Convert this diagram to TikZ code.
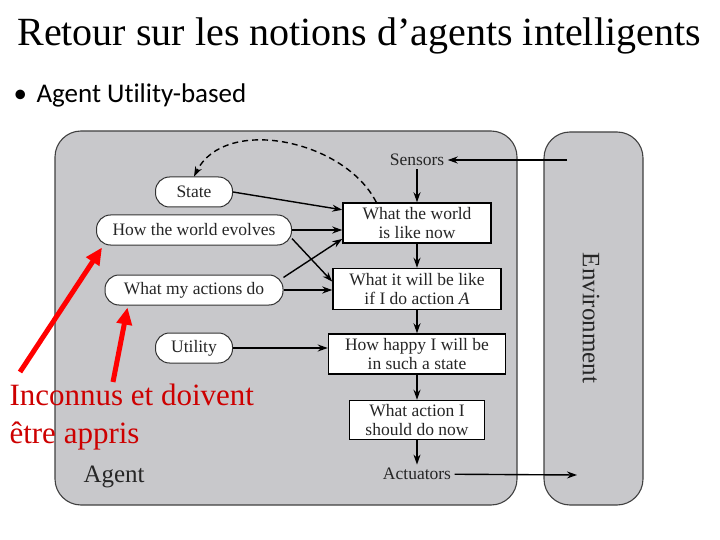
\documentclass[tikz,border=0pt]{standalone}
\usepackage{fontspec}
\setmainfont{Liberation Serif}
\newfontfamily\bulletfont[Ligatures=NoCommon]{Carlito}
\usetikzlibrary{arrows.meta,positioning}

\definecolor{agentgray}{RGB}{200,200,203}
\definecolor{notered}{RGB}{205,0,0}

\begin{document}
\begin{tikzpicture}[x=1pt,y=-1pt,>={Stealth[length=10pt,width=7pt]},node distance=24pt,
  every node/.style={font=\fontsize{17.5}{19}\selectfont,text=black!85},
  frame/.style={draw=black!75,fill=agentgray,rounded corners=26pt,line width=1.1pt},
  known/.style={draw=black!80,fill=white,rounded corners=14pt,line width=1pt,minimum height=30pt},
  stepbox/.style={draw,fill=white,line width=1.5pt,align=center,inner sep=2pt},
  flow/.style={->,line width=1.4pt},
  learn/.style={-{Triangle[length=17pt,width=15pt]},red,line width=5pt}]
\useasboundingbox (0,0) rectangle (720,540);

\node[anchor=base,font=\fontsize{40}{44}\selectfont,text=black] (title) at (359,46) {Retour sur les notions d’agents intelligents};
\node[anchor=base west,font=\bulletfont\fontsize{27}{30}\selectfont,text=black] (bullet) at (10,103) {\makebox[23pt][l]{•}Agent Utility-based};

% agent and environment
\node[frame,minimum width=462pt,minimum height=374pt] (agent) at (286,318) {};
\node[frame,minimum width=99pt,minimum height=373pt] (env) at (593.5,318.5) {};
\node[rotate=-90,font=\fontsize{25}{28}\selectfont] (envlabel) at (591,318) {Environment};
\node[anchor=base west,font=\fontsize{25}{28}\selectfont] (agentlabel) at (80,482) {Agent};

% right column
\node (sensors) at (417,160) {Sensors};
\node[stepbox,minimum width=148pt,minimum height=40pt] (worldnow) at (417,223) {What the world\\is like now};
\node[stepbox,minimum width=168pt,minimum height=41pt,below=of worldnow] (willbe) {What it will be like\\if I do action \textit{A}};
\node[stepbox,minimum width=177pt,minimum height=40pt,below=23pt of willbe] (happy) {How happy I will be\\in such a state};
\node[stepbox,minimum width=135pt,minimum height=39pt,below=25pt of happy] (action) {What action I\\should do now};
\node (actuators) at (417,474) {Actuators};
\coordinate (envin) at (567,160);
\coordinate (envout) at (577,475);

% left column
\node[known,minimum width=77pt] (state) at (194,192) {State};
\node[known,minimum width=195pt] (evolves) at (194,230) {How the world evolves};
\node[known,minimum width=178pt] (actions) at (194,290) {What my actions do};
\node[known,minimum width=77pt] (utility) at (194,348) {Utility};

\draw[flow] (envin) -- (sensors);
\draw[flow] (sensors) -- (worldnow);
\draw[flow] (worldnow) -- (willbe);
\draw[flow] (willbe) -- (happy);
\draw[flow] (happy) -- (action);
\draw[flow] (action) -- (actuators);
\draw[flow] (actuators) -- (envout);

\draw[flow] (state.east) -- (worldnow.170);
\draw[flow] (evolves.east) -- (evolves.east -| worldnow.west);
\draw[flow] (evolves.-5) -- (willbe.175);
\draw[flow] (actions.8) -- (worldnow.192);
\draw[flow] (actions.east) -- (actions.east -| willbe.west);
\draw[flow] (utility.east) -- (utility.east -| happy.west);
\draw[flow,dash pattern=on 6pt off 4pt] ([xshift=34pt]worldnow.north west) .. controls (345,140) and (225,115) .. (state.north);

% what must be learnt
\node[anchor=base west,font=\fontsize{31}{36}\selectfont,text=notered] (unknown) at (6,405) {Inconnus et doivent};
\node[anchor=base west,font=\fontsize{31}{36}\selectfont,text=notered] (learnt) at (6,443) {être appris};
\coordinate (tail1) at (20,372);
\coordinate (tail2) at (113,382);
\draw[learn] (tail1) -- ([xshift=6pt,yshift=-2pt]evolves.south west);
\draw[learn] (tail2) -- ([xshift=23pt,yshift=-2pt]actions.south west);
\end{tikzpicture}
\end{document}
